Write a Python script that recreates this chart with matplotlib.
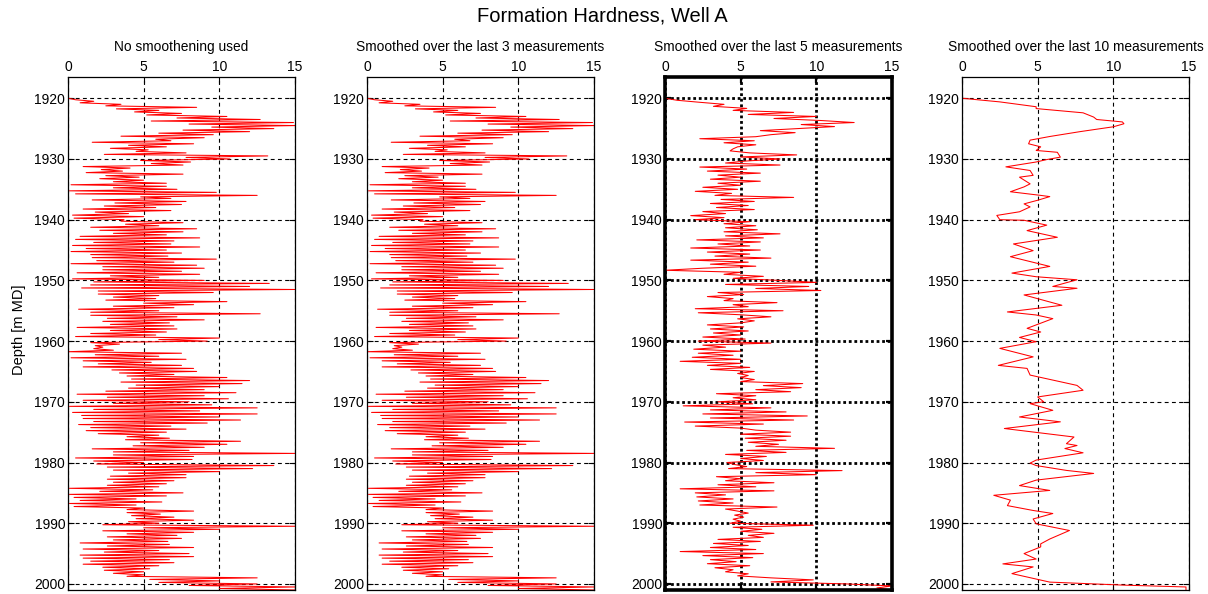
import numpy as np
import matplotlib
matplotlib.use("Agg")
import matplotlib.pyplot as plt

plt.rcParams['font.family'] = ['Liberation Sans', 'DejaVu Sans']

# ---------------- data ----------------
main_title = "Formation Hardness, Well A"
panel_titles = ["No smoothening used",
                "Smoothed over the last 3 measurements",
                "Smoothed over the last 5 measurements",
                "Smoothed over the last 10 measurements"]
x_ticks = [0, 5, 10, 15]
depth_ticks = [1920, 1930, 1940, 1950, 1960, 1970, 1980, 1990, 2000]
y_label = "Depth [m MD]"

top_depth = 1916.5
first_depth = 1920.0
raw_step = 0.25          # raw log sampled every 0.25 m from 1920.25
smooth5_step = 1.0 / 3   # smoothed-5 log read every 1/3 m

# hardness, no smoothing (1920.25 m onwards, 4 readings per metre)
raw_hardness = [
    0.5, 1.7, 0.8, 3.5,   2.5, 8.5, 3.2, 6.0,   4.4, 7.5, 5.2, 10.5,
    7.2, 12.7, 5.5, 14.9, 8.0, 15.0, 9.5, 13.6, 7.6, 12.0, 6.0, 9.6,
    3.5, 9.0, 5.8, 6.8,   1.6, 8.3, 4.0, 6.5,   2.8, 5.3, 4.5, 7.8,
    2.4, 13.2, 7.8, 10.7, 4.8, 8.1, 5.5, 7.6,   1.0, 4.1, 2.2, 3.6,
    1.2, 7.6, 2.5, 4.7,   2.1, 5.0, 3.0, 6.5,   0.2, 6.5, 3.0, 7.2,
    0.1, 9.8, 0.5, 12.5,  4.8, 6.8, 1.6, 7.8,   3.1, 7.5, 2.4, 5.8,
    1.0, 6.8, 1.8, 4.0,   0.3, 5.0, 0.4, 3.7,   3.5, 7.6, 3.8, 6.0,
    1.5, 8.5, 2.1, 7.6,   3.0, 6.5, 0.8, 8.7,   0.5, 7.0, 1.7, 6.8,
    0.3, 8.7, 1.2, 6.5,   0.2, 7.5, 1.5, 6.6,   1.6, 9.8, 1.9, 7.0,
    0.2, 8.5, 2.3, 9.0,   2.3, 7.5, 0.6, 8.7,   2.8, 6.0, 0.3, 9.0,
    1.7, 13.3, 1.5, 12.0, 0.9, 15.0, 2.0, 9.6,  2.0, 6.0, 3.0, 5.8,
    2.5, 10.5, 5.0, 8.3,  3.0, 7.0, 0.7, 6.0,   1.5, 12.7, 1.5, 7.2,
    2.6, 9.0, 2.3, 6.7,   2.8, 7.0, 0.6, 7.2,   2.8, 6.5, 1.5, 5.8,
    0.5, 10.0, 6.0, 9.2,  1.5, 3.4, 1.8, 2.3,   1.7, 3.0, 0.0, 7.5,
    1.8, 6.0, 0.2, 7.8,   1.0, 5.5, 2.0, 7.5,   1.0, 8.3, 2.9, 8.5,
    3.4, 7.0, 3.9, 10.5,  4.2, 12.0, 3.5, 11.5, 4.5, 10.0, 4.0, 9.0,
    2.5, 11.1, 0.6, 9.0,  2.6, 10.6, 1.0, 8.0,  3.0, 9.5, 0.1, 12.5,
    1.7, 8.7, 0.3, 12.5,  0.9, 10.0, 1.0, 11.4, 1.7, 9.2, 0.7, 6.8,
    1.5, 7.8, 1.2, 6.5,   2.0, 6.0, 3.9, 6.7,   3.8, 11.4, 4.8, 10.5,
    4.3, 9.0, 1.6, 8.0,   3.0, 15.0, 3.0, 8.3,  0.5, 8.2, 1.7, 5.0,
    1.9, 13.6, 2.6, 12.2, 3.0, 10.0, 4.0, 7.8,  2.8, 7.8, 2.6, 7.0,
    3.0, 6.5, 2.6, 6.0,   0.1, 5.6, 2.1, 7.6,   0.1, 6.5, 0.4, 4.5,
    0.8, 6.2, 0.1, 4.5,   0.4, 5.0, 3.9, 8.3,   3.9, 6.1, 4.2, 7.0,
    4.5, 8.3, 4.0, 6.0,   2.3, 15.0, 5.0, 10.0, 2.3, 8.3, 3.9, 7.2,
    2.6, 7.5, 3.0, 6.6,   0.8, 6.7, 2.6, 8.3,   1.0, 6.0, 2.4, 8.0,
    0.8, 8.3, 1.0, 6.7,   1.5, 7.0, 1.0, 6.0,   2.3, 5.4, 2.4, 5.0,
    3.0, 5.0, 3.9, 12.5,  5.4, 10.0, 6.0, 12.5, 8.0, 15.0, 10.0, 15.0,
]

# hardness smoothed over 5 (1920.33 m onwards, 3 readings per metre)
smooth5_hardness = [
    0.8, 2.3, 3.9,  3.2, 5.4, 4.5,  8.5, 5.5, 10.0, 7.2, 10.3, 12.5,
    9.0, 11.2, 8.7, 6.3, 8.6, 7.0,  6.0, 2.3, 5.9,  3.9, 6.0, 4.8,
    4.5, 4.3, 5.6,  8.7, 5.0, 7.6,  5.4, 4.0, 7.6,  2.3, 5.4, 2.8,
    6.3, 3.5, 5.0,  3.0, 6.3, 3.5,  5.0, 2.5, 4.8,  2.0, 4.4, 3.3,
    8.5, 3.7, 5.9,  3.0, 5.5, 3.4,  5.9, 2.5, 4.0,  1.7, 3.9, 2.0,
    5.6, 3.9, 6.0,  4.0, 6.1, 3.9,  7.6, 4.0, 6.5,  2.1, 6.3, 3.5,
    5.6, 1.7, 6.3,  2.8, 5.6, 3.3,  7.0, 1.7, 5.5,  3.0, 6.0, 2.5,
    0.0, 5.0, 3.9,  6.5, 4.5, 7.5,  10.0, 4.0, 9.5, 6.0, 10.3, 3.5,
    5.2, 2.8, 4.5,  3.9, 7.4, 4.5,  5.5, 2.0, 7.8,  2.2, 5.0, 7.0,
    4.8, 5.9, 5.0,  2.8, 5.2, 3.0,  5.5, 3.2, 5.0,  2.5, 5.3, 2.2,
    7.0, 2.5, 4.0,  1.9, 5.0, 2.2,  4.5, 1.8, 5.0,  1.0, 5.0, 2.8,
    5.6, 3.0, 5.9,  4.8, 5.5, 5.0,  5.9, 5.0, 9.1,  6.5, 9.0, 6.0,
    8.3, 3.4, 6.0,  4.5, 6.0, 3.5,  5.8, 1.2, 7.0,  3.0, 8.0, 2.5,
    9.4, 3.0, 8.5,  1.3, 6.5, 2.0,  5.0, 6.0, 8.3,  5.0, 8.3, 5.3,
    8.0, 5.5, 7.5,  6.0, 11.2, 5.4, 8.0, 4.0, 6.7,  5.0, 6.5, 4.1,
    4.6, 5.4, 4.2,  11.7, 6.0, 10.0, 3.4, 5.0, 4.0, 7.2, 3.5, 6.0,
    1.0, 7.2, 2.0,  4.0, 2.1, 4.5,  2.2, 4.5, 2.3,  7.4, 4.0, 4.8,
    5.5, 4.6, 5.2,  4.5, 5.0, 4.3,  9.8, 4.5, 6.4,  5.0, 7.2, 5.5,
    6.5, 3.5, 6.3,  3.2, 5.5, 3.0,  6.0, 1.0, 6.5,  2.5, 5.8, 3.0,
    4.7, 2.8, 5.6,  3.3, 4.5, 4.0,  5.5, 4.8, 7.0,  9.8, 7.0, 12.0,
    15.0, 14.0, 15.0,
]

# hardness smoothed over 10 (irregular read-off points)
smooth10_depth = [
    1916.5, 1920.0, 1920.6, 1921.4, 1921.7, 1922.4, 1923.1, 1923.5, 1923.9, 1924.2,
    1924.7, 1925.5, 1926.3, 1926.9, 1927.5, 1928.0, 1928.6, 1928.9, 1929.7, 1930.1,
    1930.5, 1931.3, 1931.9, 1932.7, 1933.0, 1934.1, 1934.6, 1935.4, 1936.0, 1936.2,
    1936.8, 1937.4, 1937.9, 1938.7, 1939.3, 1940.0, 1940.1, 1940.9, 1941.8, 1942.9,
    1944.0, 1945.1, 1946.1, 1947.7, 1948.8, 1949.4, 1949.9, 1951.0, 1951.3, 1952.4,
    1954.1, 1955.2, 1955.7, 1956.3, 1957.9, 1958.5, 1959.4, 1960.1, 1961.2, 1962.6,
    1964.0, 1964.5, 1965.6, 1967.3, 1968.1, 1969.2, 1970.0, 1970.3, 1971.4, 1972.5,
    1973.3, 1974.4, 1975.8, 1976.9, 1977.2, 1977.7, 1978.4, 1979.6, 1980.1, 1980.5,
    1981.3, 1981.8, 1982.9, 1983.8, 1984.6, 1985.4, 1986.2, 1987.1, 1987.9, 1988.4,
    1989.3, 1990.1, 1991.2, 1992.6, 1993.4, 1993.9, 1995.0, 1995.9, 1996.7, 1997.2,
    1998.3, 1999.7, 2000.2, 2000.5, 2001.0,
]
smooth10_hardness = [
    0.0, 0.0, 2.5, 4.9, 4.9, 8.0, 8.7, 8.9, 10.6, 10.7,
    10.0, 7.8, 5.8, 4.5, 4.4, 5.2, 4.9, 6.3, 6.5, 5.6,
    4.9, 2.9, 4.5, 4.7, 3.8, 4.5, 4.1, 3.2, 5.2, 5.8,
    5.0, 4.1, 4.5, 3.8, 2.3, 2.5, 4.1, 5.6, 4.3, 6.3,
    3.4, 4.7, 3.2, 5.8, 3.3, 4.9, 7.6, 6.0, 7.6, 4.1,
    6.6, 3.0, 4.9, 6.0, 4.3, 5.2, 3.8, 4.9, 2.5, 4.7,
    2.4, 4.3, 4.5, 7.6, 8.0, 5.0, 5.4, 4.5, 6.0, 3.8,
    6.5, 2.8, 7.4, 6.9, 7.6, 6.8, 8.0, 4.9, 4.5, 4.9,
    6.9, 8.7, 4.9, 3.8, 5.8, 2.1, 3.2, 3.0, 4.7, 6.0,
    4.7, 4.9, 7.1, 5.8, 5.2, 5.2, 4.1, 4.9, 2.7, 4.7,
    3.3, 5.8, 10.7, 14.8, 14.8,
]


def log_series(values, step):
    depth = np.concatenate([[top_depth, first_depth],
                            first_depth + step * np.arange(1, len(values) + 1)])
    vals = np.concatenate([[0.0, 0.0], values])
    return vals, depth


series = [
    log_series(raw_hardness, raw_step),
    log_series(raw_hardness, raw_step),
    log_series(smooth5_hardness, smooth5_step),
    (np.array(smooth10_hardness), np.array(smooth10_depth)),
]

# ---------------- figure ----------------
W, H = 1208, 594
fig = plt.figure(figsize=(W / 100, H / 100), dpi=100)
fig.patch.set_facecolor('white')

lefts = [68, 367, 665, 962]
ax_w = 227
ax_top, ax_bot = 77, 590

for i, (vals, depth) in enumerate(series):
    ax = fig.add_axes([lefts[i] / W, 1 - ax_bot / H, ax_w / W, (ax_bot - ax_top) / H])
    bold = (i == 2)
    ax.plot(vals, depth, color='red', lw=0.75, zorder=3)
    ax.set_xlim(0, 15)
    ax.set_ylim(2001, top_depth)
    ax.set_xticks(x_ticks)
    ax.set_yticks(depth_ticks)
    ax.xaxis.tick_top()
    ax.tick_params(axis='both', which='both', direction='in', length=4,
                   width=1.6 if bold else 0.8, labelsize=10,
                   top=True, bottom=True, left=True, right=True,
                   labeltop=True, labelbottom=False, pad=2)
    if bold:
        ax.grid(True, color='black', linestyle=(0, (1.0, 1.0)), linewidth=2.0)
    else:
        ax.grid(True, color='black', linestyle=(0, (3.5, 3.0)), linewidth=0.8)
    ax.set_axisbelow(False)
    for sp in ax.spines.values():
        sp.set_linewidth(2.6 if bold else 0.9)
        sp.set_color('black')
        sp.set_zorder(4)
    cx = (lefts[i] + ax_w / 2) / W
    fig.text(cx, 1 - 47 / H, panel_titles[i], ha='center', va='center', fontsize=9.9)

fig.text(19 / W, 1 - 330 / H, y_label, rotation=90, ha='center', va='center', fontsize=10.5)
fig.text(602 / W, 1 - 16 / H, main_title, ha='center', va='center', fontsize=14.5)

fig.savefig("out.png", dpi=100, facecolor='white')
